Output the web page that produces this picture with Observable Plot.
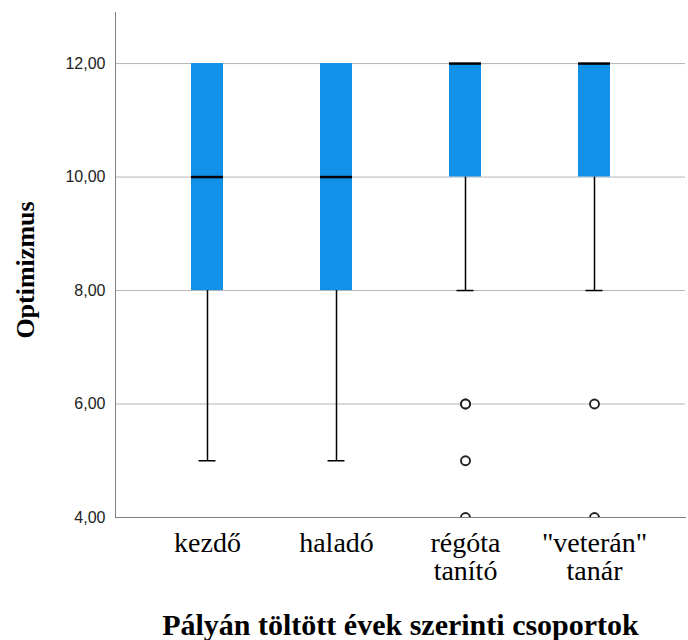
<!DOCTYPE html>
<html>
<head>
<meta charset="utf-8">
<script src="https://cdn.jsdelivr.net/npm/d3@7"></script>
<script src="https://cdn.jsdelivr.net/npm/@observablehq/plot@0.6"></script>
<style>
  html, body { margin: 0; padding: 0; background: #fff; }
</style>
</head>
<body>
<div id="chart"></div>
<script>
// ---- data ----
const categories = ["kezdő", "haladó", "régóta\ntanító", "\"veterán\"\ntanár"];
const q1 = [8, 8, 10, 10];
const median = [10, 10, 12, 12];
const q3 = [12, 12, 12, 12];
const whiskerLow = [5, 5, 8, 8];
const whiskerHigh = [12, 12, 12, 12];
const outlierGroup = ["régóta\ntanító", "régóta\ntanító", "régóta\ntanító", "régóta\ntanító", "\"veterán\"\ntanár", "\"veterán\"\ntanár"];
const outlierValue = [6, 6, 5, 4, 6, 4];
const yTicks = [4, 6, 8, 10, 12];
const gridTicks = [6, 8, 10, 12];
const yTitle = "Optimizmus";
const xTitle = "Pályán töltött évek szerinti csoportok";

const boxes = categories.map((c, i) => ({
  group: c, q1: q1[i], median: median[i], q3: q3[i], lo: whiskerLow[i], hi: whiskerHigh[i]
}));
const outliers = outlierGroup.map((g, i) => ({ group: g, value: outlierValue[i] }));

const serif = "'Liberation Serif', 'Times New Roman', serif";
const sans = "'Liberation Sans', Arial, sans-serif";

const chart = Plot.plot({
  width: 688,
  height: 640,
  marginLeft: 115,
  marginRight: 3,
  marginTop: 12,
  marginBottom: 123,
  x: { type: "band", domain: categories, paddingInner: 0.7525, paddingOuter: 0.58, align: 0.5 },
  y: { domain: [4, 12.9] },
  marks: [
    Plot.gridY(gridTicks, { stroke: "#b5b5b5", strokeOpacity: 1 }),
    Plot.barY(boxes, { x: "group", y1: "q1", y2: "q3", fill: "#1192e8" }),
    Plot.ruleX(boxes, { x: "group", y1: "lo", y2: "q1", stroke: "#000", strokeWidth: 1.5 }),
    Plot.tickY(boxes, { x: "group", y: "lo", stroke: "#000", strokeWidth: 1.5, inset: 7.5 }),
    Plot.ruleX(boxes.filter(d => d.hi > d.q3), { x: "group", y1: "q3", y2: "hi", stroke: "#000", strokeWidth: 1.5 }),
    Plot.tickY(boxes.filter(d => d.hi > d.q3), { x: "group", y: "hi", stroke: "#000", strokeWidth: 1.5, inset: 7.5 }),
    Plot.tickY(boxes, { x: "group", y: "median", stroke: "#000", strokeWidth: 2.5 }),
    Plot.dot(outliers, { x: "group", y: "value", r: 4.5, stroke: "#222", strokeWidth: 1.9, fill: "#fff", clip: true }),
    Plot.frame({ anchor: "left", stroke: "#808080" }),
    Plot.frame({ anchor: "bottom", stroke: "#808080" }),
    Plot.axisY({
      ticks: yTicks,
      tickFormat: d => d.toFixed(2).replace(".", ","),
      tickSize: 0, tickPadding: 10,
      fontSize: 16, fontFamily: sans, fill: "#222",
      label: null
    }),
    Plot.axisX({
      tickSize: 0, tickPadding: 15,
      fontSize: 28, fontFamily: serif, fill: "#000",
      lineHeight: 1.0,
      label: null
    }),
    Plot.text([yTitle], {
      text: d => d, frameAnchor: "left", textAnchor: "middle", rotate: -90, dx: -90, dy: 5,
      fontSize: 26, fontWeight: "bold", fontFamily: serif, fill: "#000"
    }),
    Plot.text([xTitle], {
      text: d => d, frameAnchor: "bottom", dy: 108, lineAnchor: "middle",
      fontSize: 30, fontWeight: "bold", fontFamily: serif, fill: "#000"
    })
  ]
});
document.getElementById("chart").appendChild(chart);
</script>
</body>
</html>
